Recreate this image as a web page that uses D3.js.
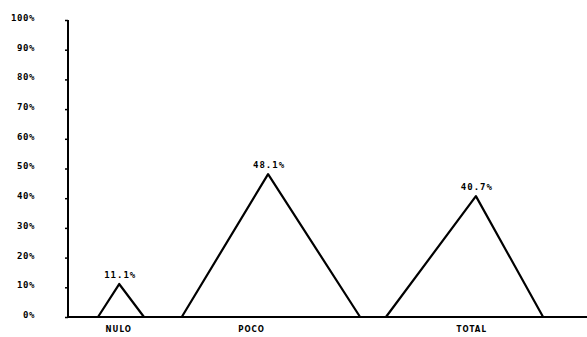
<!DOCTYPE html>
<html><head><meta charset="utf-8">
<script src="https://cdn.jsdelivr.net/npm/d3@7/dist/d3.min.js"></script>
<style>body{margin:0;background:#fff}svg{display:block}</style>
</head><body><svg id="c" width="587" height="337"></svg>
<script>
const categories = ["NULO", "POCO", "TOTAL"];
const values = [11.1, 48.1, 40.7];
// positions along a 0–100 horizontal scale (base start, peak, base end, label)
const baseStart = [5.8, 22.0, 61.5];
const peakAt = [9.9, 38.7, 78.9];
const baseEnd = [14.7, 56.5, 91.9];
const labelAt = [9.7, 35.4, 78.0];
const yTicks = [0, 10, 20, 30, 40, 50, 60, 70, 80, 90, 100];
const yTickLabels = yTicks.map(d => d + "%");

const svg = d3.select("#c");
const x = d3.scaleLinear().domain([0, 100]).range([68, 585]);
const y = d3.scaleLinear().domain([0, 100]).range([317, 20]);

// axes lines
svg.append("line").attr("x1", x(0)).attr("x2", 587).attr("y1", y(0)).attr("y2", y(0))
  .attr("stroke", "#000").attr("stroke-width", 2);
svg.append("line").attr("x1", x(0)).attr("x2", x(0)).attr("y1", y(0) + 1).attr("y2", y(100))
  .attr("stroke", "#000").attr("stroke-width", 2);

// y ticks
const yg = svg.append("g").attr("transform", `translate(${x(0)},0)`)
  .call(d3.axisLeft(y).tickValues(yTicks).tickSize(3).tickFormat((d, i) => yTickLabels[i]));
yg.select(".domain").remove();
yg.selectAll(".tick line").attr("stroke", "#000").attr("stroke-width", 1.5);
yg.selectAll(".tick text")
  .attr("x", -33).attr("text-anchor", "end").attr("dy", "0.05em")
  .style("font-family", "'DejaVu Sans Mono'").style("font-weight", "bold")
  .style("font-size", "9px").style("letter-spacing", "0.6px").attr("fill", "#000");

// x category labels
const xg = svg.append("g").attr("transform", `translate(0,${y(0)})`)
  .call(d3.axisBottom(x).tickValues(labelAt).tickSize(0).tickFormat((d, i) => categories[i]));
xg.select(".domain").remove();
xg.selectAll(".tick text").attr("dy", "1.55em")
  .style("font-family", "'DejaVu Sans Condensed'").style("font-weight", "bold")
  .style("font-size", "8px").style("letter-spacing", "1px").attr("fill", "#000");

// triangles
const line = d3.line().x(d => x(d[0])).y(d => y(d[1]));
categories.forEach((c, i) => {
  svg.append("path")
    .attr("d", line([[baseStart[i], 0], [peakAt[i], values[i]], [baseEnd[i], 0]]))
    .attr("fill", "none").attr("stroke", "#000").attr("stroke-width", 2.2)
    .attr("stroke-linejoin", "round");
  svg.append("text")
    .attr("x", x(peakAt[i]) + 1).attr("y", y(values[i]) - 6)
    .attr("text-anchor", "middle")
    .style("font-family", "'DejaVu Sans Mono'").style("font-weight", "bold")
    .style("font-size", "9px").style("letter-spacing", "1px")
    .text(values[i].toFixed(1) + "%");
});
</script></body></html>
